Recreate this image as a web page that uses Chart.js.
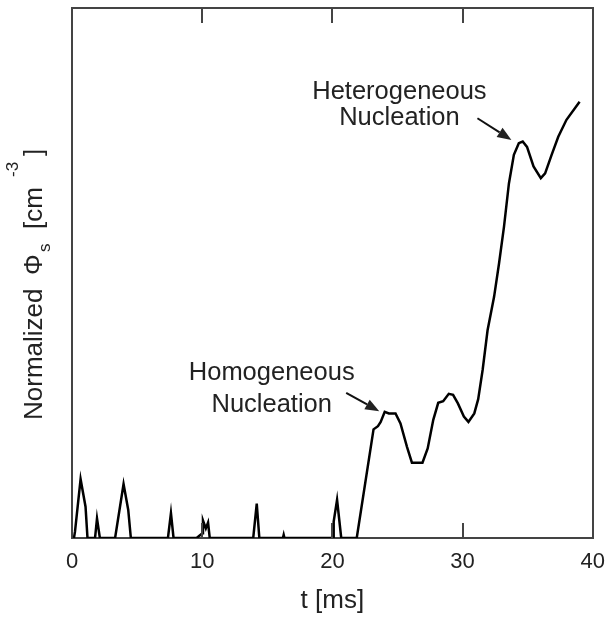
<!DOCTYPE html>
<html>
<head>
<meta charset="utf-8">
<style>
  html, body { margin: 0; padding: 0; background: #fff; }
  #wrap { width: 616px; height: 622px; position: relative; }
</style>
</head>
<body>
<div id="wrap"><canvas id="phiChart"></canvas></div>

<script src="https://cdn.jsdelivr.net/npm/chart.js"></script>
<script>
    // time axis [ms]
    const timeMs = [
        0.15, 0.23, 0.66, 1.04, 1.19, 1.77, 1.92, 2.14, 3.31, 3.96,
        4.32, 4.52, 7.37, 7.6, 7.8, 9.57, 10.02, 10.06, 10.28, 10.45,
        10.58, 13.92, 14.19, 14.39, 16.2, 16.26, 16.32, 20.08, 20.1, 20.36,
        20.68, 21.87, 23.16, 23.5, 23.71, 24.02, 24.34, 24.85, 25.23, 25.73,
        26.11, 26.92, 27.32, 27.75, 28.13, 28.51, 28.94, 29.27, 29.64, 30.1,
        30.45, 30.9, 31.2, 31.54, 31.92, 32.42, 32.8, 33.18, 33.56, 33.94,
        34.32, 34.62, 34.95, 35.45, 36.01, 36.34, 36.84, 37.35, 37.98, 38.99
    ];
    // normalized Phi_s
    const phiNorm = [
        0, 0.012, 0.111, 0.059, 0, 0, 0.037, 0, 0, 0.102,
        0.053, 0, 0, 0.047, 0, 0, 0.009, 0.033, 0.018, 0.029,
        0, 0, 0.065, 0, 0, 0.006, 0, 0, 0.031, 0.072,
        0, 0, 0.205, 0.211, 0.219, 0.238, 0.235, 0.235, 0.216, 0.172,
        0.142, 0.142, 0.169, 0.223, 0.255, 0.258, 0.272, 0.27, 0.254, 0.229,
        0.219, 0.235, 0.262, 0.317, 0.392, 0.455, 0.518, 0.587, 0.669, 0.723,
        0.745, 0.748, 0.738, 0.701, 0.679, 0.688, 0.723, 0.757, 0.789, 0.823
    ];
    const xTicks = [0, 10, 20, 30, 40];
    const innerTicks = [10, 20, 30];

    // notes, in data units (text centre/baselines, arrow tail -> tip)
    const notes = [
        { lines: ['Homogeneous', 'Nucleation'], x: 15.34, y: [0.298, 0.238], from: [21.06, 0.274], to: [23.6, 0.239] },
        { lines: ['Heterogeneous', 'Nucleation'], x: 25.15, y: [0.828, 0.779], from: [31.14, 0.792], to: [33.75, 0.751] }
    ];

    const FONT = '"Liberation Sans", Arial, Helvetica, sans-serif';
    const INK = '#222';
    const AXIS = '#444';

    const points = timeMs.map((t, i) => ({ x: t, y: phiNorm[i] }));

    const boxAndNotes = {
        id: 'boxAndNotes',
        afterDraw(chart) {
            const ctx = chart.ctx;
            const xs = chart.scales.x, ys = chart.scales.y;
            const area = chart.chartArea;

            // inward tick marks, top and bottom
            ctx.save();
            ctx.strokeStyle = AXIS;
            ctx.lineWidth = 2;
            innerTicks.forEach(v => {
                const px = Math.round(xs.getPixelForValue(v));
                ctx.beginPath();
                ctx.moveTo(px, area.bottom);
                ctx.lineTo(px, area.bottom - 15);
                ctx.moveTo(px, area.top);
                ctx.lineTo(px, area.top + 15);
                ctx.stroke();
            });
            ctx.restore();

            // annotations
            ctx.save();
            ctx.fillStyle = INK;
            ctx.strokeStyle = '#111';
            ctx.font = '25.5px ' + FONT;
            ctx.textAlign = 'center';
            ctx.textBaseline = 'alphabetic';
            notes.forEach(n => {
                const cx = xs.getPixelForValue(n.x);
                n.lines.forEach((s, i) => ctx.fillText(s, cx, ys.getPixelForValue(n.y[i])));

                const x0 = xs.getPixelForValue(n.from[0]), y0 = ys.getPixelForValue(n.from[1]);
                const x1 = xs.getPixelForValue(n.to[0]), y1 = ys.getPixelForValue(n.to[1]);
                const a = Math.atan2(y1 - y0, x1 - x0);
                const hl = 14, hw = 5.5;
                ctx.lineWidth = 2;
                ctx.beginPath();
                ctx.moveTo(x0, y0);
                ctx.lineTo(x1 - hl * Math.cos(a), y1 - hl * Math.sin(a));
                ctx.stroke();
                ctx.beginPath();
                ctx.moveTo(x1, y1);
                ctx.lineTo(x1 - hl * Math.cos(a) + hw * Math.sin(a), y1 - hl * Math.sin(a) - hw * Math.cos(a));
                ctx.lineTo(x1 - hl * Math.cos(a) - hw * Math.sin(a), y1 - hl * Math.sin(a) + hw * Math.cos(a));
                ctx.closePath();
                ctx.fill();
            });
            ctx.restore();

            // y title with sub/superscript
            ctx.save();
            ctx.translate(42, 0);
            ctx.rotate(-Math.PI / 2);
            ctx.fillStyle = INK;
            ctx.textAlign = 'left';
            ctx.textBaseline = 'alphabetic';
            const big = '26px ' + FONT, small = '17px ' + FONT;
            const parts = [
                { s: 'Normalized', f: big, at: 420, dy: 0 },
                { s: '\u03A6', f: big, at: 275, dy: 0 },
                { s: 's', f: small, at: 252, dy: 8 },
                { s: '[cm', f: big, at: 229, dy: 0 },
                { s: '-3', f: small, at: 177, dy: -24 },
                { s: ']', f: big, at: 156, dy: 0 }
            ];
            parts.forEach(p => {
                ctx.font = p.f;
                ctx.fillText(p.s, -p.at, p.dy);
            });
            ctx.restore();
        }
    };

    const plainAxis = (pos, size) => ({
        type: 'linear',
        position: pos,
        display: true,
        min: 0,
        max: pos === 'top' || pos === 'bottom' ? 40 : 1,
        grid: { display: false, drawTicks: false },
        border: { display: true, color: AXIS, width: 2 },
        ticks: { display: false },
        afterFit(scale) {
            if (scale.isHorizontal()) scale.height = size; else scale.width = size;
        }
    });

    const phiChart = new Chart(document.getElementById('phiChart').getContext('2d'), {
        type: 'scatter',
        data: {
            datasets: [{
                data: points,
                showLine: true,
                borderColor: '#000',
                borderWidth: 2.5,
                pointRadius: 0,
                tension: 0,
                fill: false
            }]
        },
        options: {
            responsive: true,
            maintainAspectRatio: false,
            animation: false,
            events: [],
            layout: { padding: 0 },
            plugins: { legend: { display: false }, tooltip: { enabled: false } },
            scales: {
                x: {
                    type: 'linear',
                    position: 'bottom',
                    min: 0,
                    max: 40,
                    afterBuildTicks(scale) { scale.ticks = xTicks.map(v => ({ value: v })); },
                    grid: { display: false, drawTicks: false },
                    border: { display: true, color: AXIS, width: 2 },
                    ticks: { color: INK, font: { family: FONT, size: 22 }, padding: 11, maxRotation: 0 },
                    title: {
                        display: true,
                        text: 't [ms]',
                        color: INK,
                        font: { family: FONT, size: 26 },
                        padding: { top: 0, bottom: 6 }
                    },
                    afterFit(scale) { scale.height = 84; }
                },
                x2: plainAxis('top', 8),
                y: plainAxis('left', 72),
                y2: plainAxis('right', 16)
            }
        },
        plugins: [boxAndNotes]
    });
</script>
</body>
</html>
